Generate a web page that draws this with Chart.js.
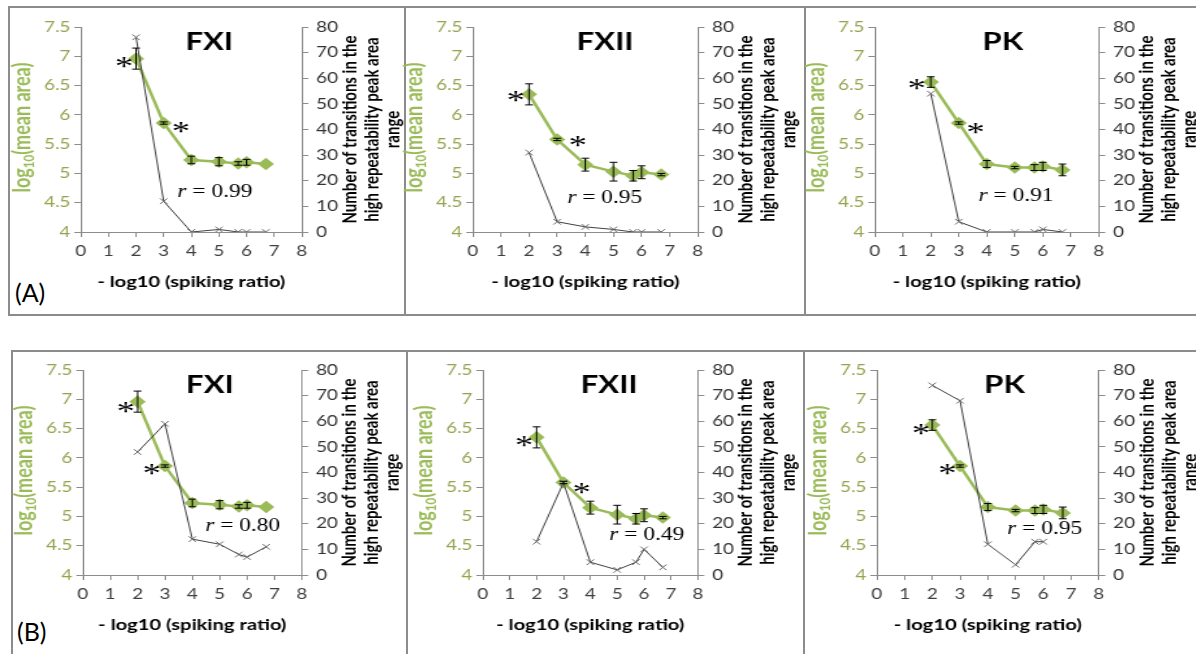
<!DOCTYPE html>
<html lang="en">
<head>
<meta charset="UTF-8">
<title>mean area vs spiking ratio</title>
<script src="https://cdn.jsdelivr.net/npm/chart.js"></script>
<style>
  body { margin: 0; width: 1196px; height: 654px; background: #fff; overflow: hidden; position: relative; font-family: Lato, sans-serif; }
  .frame { position: absolute; border: 2px solid #8c8c8c; box-sizing: border-box; }
  .sep { position: absolute; width: 2px; background: #8c8c8c; }
  .tag { position: absolute; font-size: 25px; color: #000; }
  .wrap { position: absolute; width: 320px; height: 300px; transform-origin: 0 0; }
  .wrap canvas { width: 320px; height: 300px; }
</style>
</head>
<body>
  <div class="frame" style="left:8px;top:6px;width:1200px;height:310px"></div>
  <div class="sep" style="left:404px;top:6px;height:310px"></div>
  <div class="sep" style="left:804px;top:6px;height:310px"></div>
  <div class="frame" style="left:11px;top:350px;width:1200px;height:330px"></div>
  <div class="sep" style="left:406px;top:350px;height:330px"></div>
  <div class="sep" style="left:803px;top:350px;height:330px"></div>
  <div class="tag" style="left:15px;top:277px">(A)</div>
  <div class="tag" style="left:17px;top:616px">(B)</div>
  <div id="charts"></div>

<script>
  // the original figure is stretched sideways, so each chart is too
  const K = 1.3;

  const spikeLevels = [2, 3, 4, 5, 5.7, 6, 6.7];

  // log10(mean area) and error bar half-widths
  const fxiArea = [6.96, 5.86, 5.23, 5.20, 5.17, 5.19, 5.16];
  const fxiErr = [0.18, 0.02, 0.065, 0.07, 0.03, 0.05, 0];
  const fxiiArea = [6.35, 5.58, 5.15, 5.03, 4.96, 5.02, 4.98];
  const fxiiErr = [0.18, 0.02, 0.11, 0.16, 0.09, 0.11, 0.02];
  const pkArea = [6.56, 5.86, 5.16, 5.10, 5.10, 5.12, 5.06];
  const pkErr = [0.09, 0.02, 0.06, 0.02, 0.05, 0.07, 0.10];

  // number of transitions in the high repeatability peak area range
  const fxiTransA = [76, 12, 0, 1, 0, 0, 0];
  const fxiiTransA = [31, 4, 2, 1, 0, 0, 0];
  const pkTransA = [54, 4, 0, 0, 0, 1, 0];
  const fxiTransB = [48, 59, 14, 12, 8, 7, 11];
  const fxiiTransB = [13, 36, 5, 2, 5, 10, 3];
  const pkTransB = [74, 68, 12, 4, 13, 13, null];

  const rValues = ['0.99', '0.95', '0.91', '0.80', '0.49', '0.95'];

  const panels = [
    { title: 'FXI',  area: fxiArea,  err: fxiErr,  trans: fxiTransA,  r: rValues[0], plot: [81, 27, 221],  titleX: 4.65, stars: [[1.56, 6.9], [3.62, 5.79]],  rAt: [4.85, 4.7] },
    { title: 'FXII', area: fxiiArea, err: fxiiErr, trans: fxiiTransA, r: rValues[1], plot: [473, 27, 225], titleX: 4.7,  stars: [[1.53, 6.32], [3.73, 5.55]], rAt: [4.69, 4.6] },
    { title: 'PK',   area: pkArea,   err: pkErr,   trans: pkTransA,   r: rValues[2], plot: [875, 27, 224], titleX: 4.57, stars: [[1.5, 6.53], [3.6, 5.78]],   rAt: [5.04, 4.63] },
    { title: 'FXI',  area: fxiArea,  err: fxiErr,  trans: fxiTransB,  r: rValues[3], plot: [83, 370, 219], titleX: 4.64, stars: [[1.57, 6.87], [2.52, 5.81]], rAt: [5.84, 4.85] },
    { title: 'FXII', area: fxiiArea, err: fxiiErr, trans: fxiiTransB, r: rValues[4], plot: [483, 370, 215], titleX: 4.7, stars: [[1.53, 6.29], [3.68, 5.49]], rAt: [6.1, 4.7] },
    { title: 'PK',   area: pkArea,   err: pkErr,   trans: pkTransB,   r: rValues[5], plot: [877, 370, 222], titleX: 4.6, stars: [[1.59, 6.49], [2.54, 5.81]], rAt: [6.05, 4.81] }
  ];

  const green = '#9BBB59';
  const axisGray = '#8c8c8c';
  const LEFT_W = 56;

  // error bars, titles, asterisks and the r labels
  function overlay(p) {
    return {
      id: 'overlay',
      afterDatasetsDraw(chart) {
        const { ctx, scales: { x, y } } = chart;
        ctx.save();
        ctx.strokeStyle = '#000';
        ctx.lineWidth = 1;
        p.area.forEach((v, i) => {
          const e = p.err[i];
          if (!e) return;
          const px = x.getPixelForValue(spikeLevels[i]);
          const t = y.getPixelForValue(v + e), b = y.getPixelForValue(v - e);
          ctx.beginPath();
          ctx.moveTo(px, t); ctx.lineTo(px, b);
          ctx.moveTo(px - 3, t); ctx.lineTo(px + 3, t);
          ctx.moveTo(px - 3, b); ctx.lineTo(px + 3, b);
          ctx.stroke();
        });
        ctx.restore();
      },
      afterDraw(chart) {
        const { ctx, chartArea: a, scales: { x, y } } = chart;
        const midY = (a.top + a.bottom) / 2;
        ctx.save();
        ctx.fillStyle = '#000';
        ctx.textAlign = 'center';
        ctx.textBaseline = 'alphabetic';

        ctx.font = 'bold 24px Lato';
        ctx.fillText(p.title, x.getPixelForValue(p.titleX), a.top + 23);

        ctx.font = '28px "Liberation Serif"';
        p.stars.forEach(s => {
          ctx.fillText('*', x.getPixelForValue(s[0]), y.getPixelForValue(s[1]) + 13);
        });

        // r = value, r in italics
        const rx = x.getPixelForValue(p.rAt[0]), ry = y.getPixelForValue(p.rAt[1]) + 6;
        ctx.textAlign = 'left';
        ctx.font = 'italic 18px "Liberation Serif"';
        const wr = ctx.measureText('r').width;
        ctx.font = '18px "Liberation Serif"';
        const rest = ' = ' + p.r;
        const wv = ctx.measureText(rest).width;
        const x0 = rx - (wr + wv) / 2;
        ctx.font = 'italic 18px "Liberation Serif"';
        ctx.fillText('r', x0, ry);
        ctx.font = '18px "Liberation Serif"';
        ctx.fillText(rest, x0 + wr, ry);

        // x axis title
        ctx.textAlign = 'center';
        ctx.font = 'bold 15.5px Lato';
        ctx.fillText('- log10 (spiking ratio)', (a.left + a.right) / 2, a.bottom + 55);

        // left title with subscript
        ctx.save();
        ctx.translate(a.left - 44, midY - 2);
        ctx.rotate(-Math.PI / 2);
        ctx.fillStyle = green;
        ctx.textAlign = 'left';
        const parts = [['log', 'bold 18px Lato', 0], ['10', 'bold 11.5px Lato', 3], ['(mean area)', 'bold 18px Lato', 0]];
        let total = 0;
        parts.forEach(q => { ctx.font = q[1]; total += ctx.measureText(q[0]).width; });
        let cx = -total / 2;
        parts.forEach(q => {
          ctx.font = q[1];
          ctx.fillText(q[0], cx, 5 + q[2]);
          cx += ctx.measureText(q[0]).width;
        });
        ctx.restore();

        // right title, three lines
        const lines = ['Number of transitions in the', 'high repeatability peak area', 'range'];
        const offs = [37, 54, 70];
        ctx.font = 'bold 15px Lato';
        ctx.textBaseline = 'middle';
        lines.forEach((t, i) => {
          ctx.save();
          ctx.translate(a.right + offs[i], midY);
          ctx.rotate(-Math.PI / 2);
          ctx.fillText(t, 0, 0);
          ctx.restore();
        });
        ctx.restore();
      }
    };
  }

  const host = document.getElementById('charts');

  panels.forEach(p => {
    const [pl, pt, pw] = p.plot;
    const rightW = 320 - LEFT_W - pw / K;
    const wrap = document.createElement('div');
    wrap.className = 'wrap';
    wrap.style.left = (pl - LEFT_W * K) + 'px';
    wrap.style.top = (pt - 20) + 'px';
    wrap.style.transform = 'scaleX(' + K + ')';
    const canvas = document.createElement('canvas');
    canvas.width = 320;
    canvas.height = 300;
    wrap.appendChild(canvas);
    host.appendChild(wrap);

    const tickGrid = { drawOnChartArea: false, drawTicks: true, tickLength: 5, color: axisGray };
    const tickFont = { family: 'Lato', size: 14.5 };

    new Chart(canvas.getContext('2d'), {
      type: 'line',
      data: {
        datasets: [
          {
            data: spikeLevels.map((v, i) => ({ x: v, y: p.trans[i] })),
            yAxisID: 'y2',
            borderColor: '#404040',
            borderWidth: 1,
            pointStyle: 'crossRot',
            pointRadius: 4,
            pointBorderColor: '#6a6a6a',
            pointBorderWidth: 1,
            order: 0
          },
          {
            data: spikeLevels.map((v, i) => ({ x: v, y: p.area[i] })),
            yAxisID: 'y',
            borderColor: green,
            borderWidth: 2.5,
            pointStyle: 'rectRot',
            pointRadius: 4.5,
            pointBackgroundColor: green,
            pointBorderColor: green,
            order: 1
          }
        ]
      },
      options: {
        responsive: false,
        animation: false,
        layout: { padding: { top: 20, left: 0, right: 0, bottom: 0 } },
        plugins: { legend: { display: false }, tooltip: { enabled: false } },
        scales: {
          x: {
            type: 'linear', min: 0, max: 8,
            ticks: { stepSize: 1, color: '#404040', font: tickFont, padding: 6 },
            grid: tickGrid,
            border: { color: axisGray },
            afterFit: s => { s.height = 75; }
          },
          y: {
            position: 'left', min: 4, max: 7.5,
            ticks: { stepSize: 0.5, color: '#98A24F', font: tickFont, padding: 3, callback: v => String(Math.round(v * 10) / 10) },
            grid: tickGrid,
            border: { color: axisGray },
            afterFit: s => { s.width = LEFT_W; }
          },
          y2: {
            position: 'right', min: 0, max: 80,
            ticks: { stepSize: 10, color: '#333', font: tickFont, padding: 6 },
            grid: tickGrid,
            border: { color: axisGray },
            afterFit: s => { s.width = rightW; }
          }
        }
      },
      plugins: [overlay(p)]
    });
  });
</script>
</body>
</html>
